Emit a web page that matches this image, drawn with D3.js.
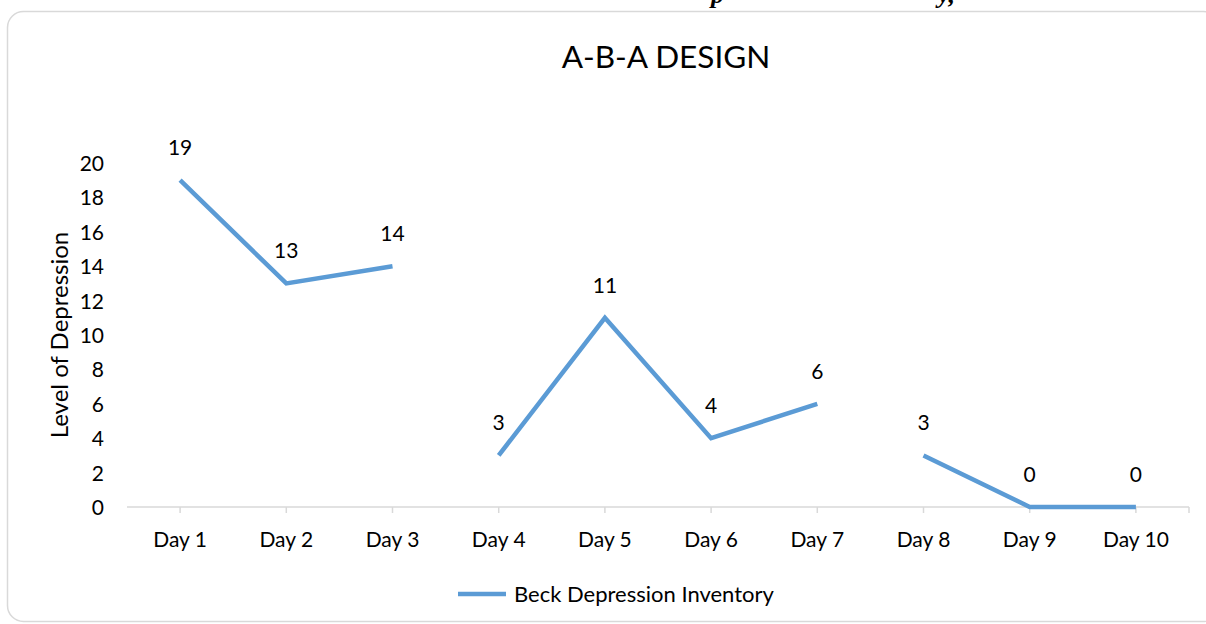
<!DOCTYPE html>
<html><head><meta charset="utf-8">
<script src="https://cdn.jsdelivr.net/npm/d3@7"></script>
<style>body{margin:0;background:#fff;}svg{display:block;}</style>
</head><body>
<svg id="c" width="1206" height="624"></svg>
<script>
const categories = ["Day 1","Day 2","Day 3","Day 4","Day 5","Day 6","Day 7","Day 8","Day 9","Day 10"];
const values = [19,13,14,3,11,4,6,3,0,0];
const phases = ["A1","A1","A1","B","B","B","B","A2","A2","A2"];
const yTicks = [0,2,4,6,8,10,12,14,16,18,20];
const seriesName = "Beck Depression Inventory";
const title = "A-B-A DESIGN";
const yTitle = "Level of Depression";

const FONT = "Lato, 'Open Sans', sans-serif";
const svg = d3.select("#c");
const color = "#5b9bd5";

// clipped caption text above the chart
svg.append("text").attr("x",711).attr("y",3).attr("font-family","'Liberation Serif', serif")
  .attr("font-style","italic").attr("font-weight","bold").attr("font-size",26).text("p");
svg.append("text").attr("x",938).attr("y",3).attr("font-family","'Liberation Serif', serif")
  .attr("font-style","italic").attr("font-weight","bold").attr("font-size",26).text("y,");

// frame
svg.append("rect").attr("x",7.5).attr("y",11.5).attr("width",1212).attr("height",610)
  .attr("rx",16).attr("fill","#fff").attr("stroke","#d9d9d9").attr("stroke-width",1.5);

const x = d3.scaleBand().domain(categories).range([127,1189]);
const y = d3.scaleLinear().domain([0,20]).range([507,163]);

// title
svg.append("text").attr("x",666).attr("y",68).attr("text-anchor","middle")
  .attr("font-family",FONT).attr("font-size",31.5).attr("fill","#000").text(title);

// y axis labels
const yAxis = d3.axisLeft(y).tickValues(yTicks).tickSize(0).tickPadding(0);
const gy = svg.append("g").attr("transform","translate(104,0)").call(yAxis);
gy.select(".domain").remove();
gy.selectAll("text").attr("font-family",FONT).attr("font-size",21).attr("fill","#000")
  .attr("dy","0.36em");

// x axis
const xAxis = d3.axisBottom(x).tickSize(0).tickPadding(0);
const gx = svg.append("g").attr("transform","translate(0,507)").call(xAxis);
gx.select(".domain").attr("stroke","#d9d9d9").attr("stroke-width",1.5)
  .attr("d","M127,0H1189");
gx.selectAll("text").attr("font-family",FONT).attr("font-size",21).attr("fill","#000")
  .attr("y",40).attr("dy",0);
gx.selectAll(".tick line").remove();
const tickPos = categories.map(c => x(c)+x.bandwidth()/2).concat([x.range()[1]]);
gx.selectAll("line.tk").data(tickPos).join("line").attr("class","tk")
  .attr("x1",d=>d).attr("x2",d=>d).attr("y1",0).attr("y2",6)
  .attr("stroke","#d9d9d9").attr("stroke-width",1.5);

// y title
svg.append("text").attr("transform","translate(68,335) rotate(-90)").attr("text-anchor","middle")
  .attr("font-family",FONT).attr("font-size",24).attr("fill","#000").text(yTitle);

// lines by phase
const pts = categories.map((c,i)=>({c, v:values[i], p:phases[i]}));
const groups = d3.groups(pts, d=>d.p);
const line = d3.line().x(d=>x(d.c)+x.bandwidth()/2).y(d=>y(d.v));
svg.selectAll("path.series").data(groups).join("path").attr("class","series")
  .attr("d",d=>line(d[1])).attr("fill","none").attr("stroke",color)
  .attr("stroke-width",4.5).attr("stroke-linejoin","miter");

// data labels
svg.selectAll("text.lbl").data(pts).join("text").attr("class","lbl")
  .attr("x",d=>x(d.c)+x.bandwidth()/2).attr("y",d=>y(d.v)-25)
  .attr("text-anchor","middle").attr("font-family",FONT).attr("font-size",21).attr("fill","#000")
  .text(d=>d.v);

// legend
svg.append("line").attr("x1",458).attr("x2",506).attr("y1",594).attr("y2",594)
  .attr("stroke",color).attr("stroke-width",4.5);
svg.append("text").attr("x",514).attr("y",601.5).attr("font-family",FONT).attr("font-size",22)
  .attr("fill","#000").text(seriesName);
</script>
</body></html>
